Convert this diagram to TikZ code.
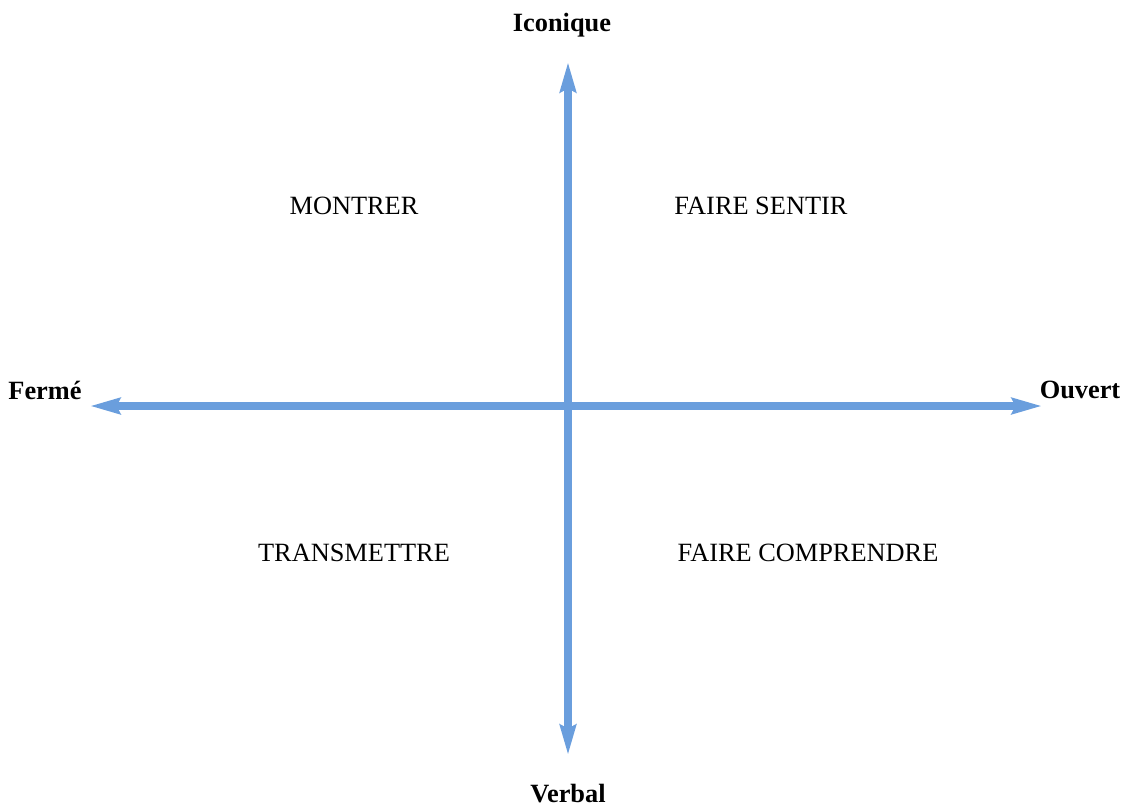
\documentclass[tikz,border=0pt]{standalone}
\usepackage{fontspec}
\setmainfont{Liberation Serif}
\usepackage{tikz}
\usetikzlibrary{calc,positioning,arrows.meta}
\definecolor{axisblue}{HTML}{6A9EDD}
\tikzset{
  axis/.style={line width=4.4pt,draw=axisblue,
    {Stealth[length=17pt,width=9pt,inset=2pt]}-{Stealth[length=17pt,width=9pt,inset=2pt]}},
  pole/.style={font=\fontsize{15}{18}\selectfont\bfseries,inner sep=1pt},
  quadrant/.style={font=\fontsize{15}{18}\selectfont,inner sep=1pt}
}

\begin{document}
\begin{tikzpicture}[x=0.02cm,y=-0.02cm]
		\useasboundingbox (0,0) rectangle (1127,809);
		% extremites des axes
		\coordinate (N) at (568,62);
		\coordinate (S) at (568,755);
		\coordinate (W) at (90,406);
		\coordinate (E) at (1042,406);
		\draw[axis] (W) -- (E);
		\draw[axis] (S) -- (N);
		% poles
		\node(ico) [pole] at (562,25) {Iconique};
		\node(ver) [pole] at (568,794) {Verbal};
		\node(fer) [pole] at (45,390) {Fermé};
		\node(ouv) [pole] at (1080,390) {Ouvert};
		% quadrants
		\node(mon) [quadrant] at (354,206) {MONTRER};
		\node(sen) [quadrant] at (761,206) {FAIRE SENTIR};
		\node(tra) [quadrant] at (354,553) {TRANSMETTRE};
		\node(com) [quadrant] at (808,553) {FAIRE COMPRENDRE};
	\end{tikzpicture}
\end{document}
